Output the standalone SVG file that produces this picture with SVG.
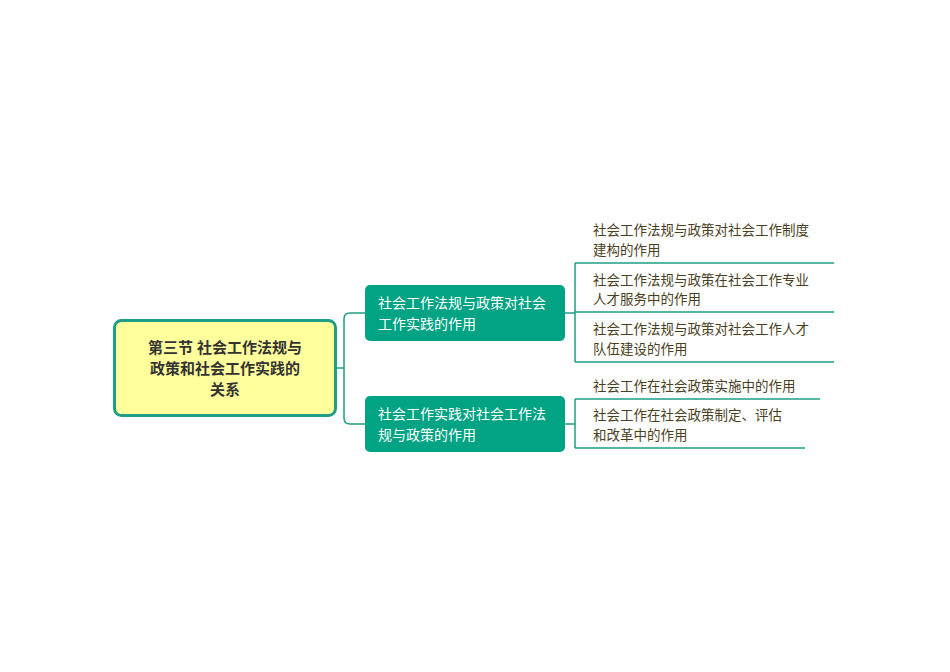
<svg xmlns="http://www.w3.org/2000/svg" width="950" height="672" viewBox="0 0 950 672">
<style>
text{font-family:"Liberation Sans","Noto Sans CJK SC",sans-serif}
.leaf{font-size:13.5px;fill:#4a3f23}
.br{font-size:14px;fill:#ffffff}
.line{fill:none;stroke:#1e9e86;stroke-width:1.5}
</style>
<rect width="950" height="672" fill="#ffffff"/>
<g id="connectors">
<path class="line" d="M336,368 H344 M365,313 H350 Q344,313 344,319 V418 Q344,424 350,424 H365"/>
<path class="line" d="M565,313 H575 M575,263 V362 M575,263 H834 M575,312 H834 M575,362 H834"/>
<path class="line" d="M565,424 H575 M575,399 V448 M575,399 H820 M575,448 H805"/>
</g>
<g id="root">
<rect x="114.5" y="320.5" width="221" height="95" rx="7" fill="#ffff9c" stroke="#1e9e86" stroke-width="3"/>
<text x="225" y="353" text-anchor="middle" font-size="15" font-weight="bold" fill="#333">第三节 社会工作法规与</text>
<text x="225" y="374" text-anchor="middle" font-size="15" font-weight="bold" fill="#333">政策和社会工作实践的</text>
<text x="225" y="395" text-anchor="middle" font-size="15" font-weight="bold" fill="#333">关系</text>
</g>
<g id="b1">
<rect x="365" y="285" width="200" height="56" rx="5" fill="#00a383"/>
<text class="br" x="378" y="308">社会工作法规与政策对社会</text>
<text class="br" x="378" y="329">工作实践的作用</text>
</g>
<g id="b2">
<rect x="365" y="396" width="200" height="56" rx="5" fill="#00a383"/>
<text class="br" x="378" y="419">社会工作实践对社会工作法</text>
<text class="br" x="378" y="440">规与政策的作用</text>
</g>
<g id="l1"><text class="leaf" x="593" y="235">社会工作法规与政策对社会工作制度</text><text class="leaf" x="593" y="255">建构的作用</text></g>
<g id="l2"><text class="leaf" x="593" y="285">社会工作法规与政策在社会工作专业</text><text class="leaf" x="593" y="304">人才服务中的作用</text></g>
<g id="l3"><text class="leaf" x="593" y="334">社会工作法规与政策对社会工作人才</text><text class="leaf" x="593" y="354">队伍建设的作用</text></g>
<g id="l4"><text class="leaf" x="593" y="391">社会工作在社会政策实施中的作用</text></g>
<g id="l5"><text class="leaf" x="593" y="420">社会工作在社会政策制定、评估</text><text class="leaf" x="593" y="440">和改革中的作用</text></g>
</svg>
